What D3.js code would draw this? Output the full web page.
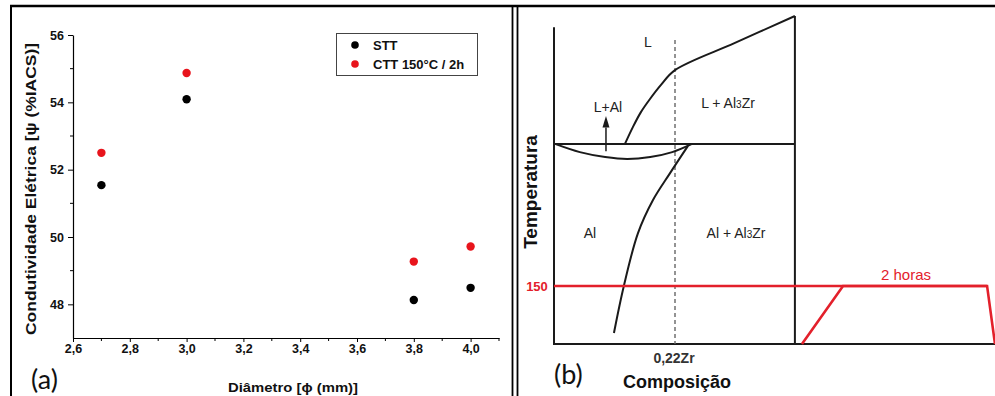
<!DOCTYPE html>
<html><head><meta charset="utf-8">
<script src="https://cdn.jsdelivr.net/npm/d3@7"></script>
<style>body{margin:0;background:#fff} svg{display:block}</style>
</head><body>
<svg id="c" width="995" height="396"></svg>
<script>
// ---------- Panel (a) data ----------
const diameters = [2.7, 3.0, 3.8, 4.0];
const sttValues = [51.54, 54.09, 48.13, 48.49];
const cttValues = [52.50, 54.87, 49.27, 49.72];
const seriesNames = ["STT", "CTT 150°C / 2h"];
const seriesColors = ["#000000", "#e8141c"];
const xTickValues = [2.6, 2.8, 3.0, 3.2, 3.4, 3.6, 3.8, 4.0];
const xMinorTicks = [2.7, 2.9, 3.1, 3.3, 3.5, 3.7, 3.9, 4.1];
const yTickValues = [48, 50, 52, 54, 56];
const yMinorTicks = [49, 51, 53, 55];

// ---------- Panel (b) schematic data (composition wt% Zr, temperature in arbitrary units) ----------
const liquidus = [[0.129,61],[0.1436,66.2],[0.158,70.7],[0.1745,74.7],[0.1945,79.0],[0.22,83.5],[0.329,91.8],[0.438,100]];
const solidusLens = [[0.0018,61],[0.047,58.5],[0.093,57.0],[0.133,56.4],[0.175,57.0],[0.215,58.5],[0.251,61]];
const solvus = [[0.2436,60.4],[0.211,52.1],[0.18,43.9],[0.1527,33.8],[0.127,17.7],[0.109,3.35]];
const alloyComposition = 0.22;
const peritecticT = 61;
const agingT = 17.7;             // drawn level of 150 °C
const agingHours = [-0.57, 0, 2, 2.11];   // ramp start, reach 150, end of hold, back down
const agingTemps = [0, 17.7, 17.7, 0];

const svg = d3.select("#c");
const F = "'Liberation Sans', Arial, sans-serif";

// ---------- Frame ----------
svg.append("line").attr("x1",10).attr("x2",995).attr("y1",6).attr("y2",6).attr("stroke","#000").attr("stroke-width",2.5);
svg.append("line").attr("x1",11).attr("x2",11).attr("y1",5).attr("y2",396).attr("stroke","#000").attr("stroke-width",2);
[512.5, 517.5].forEach(x => svg.append("line").attr("x1",x).attr("x2",x).attr("y1",5).attr("y2",396).attr("stroke","#000").attr("stroke-width",1.8));

// ---------- Panel (a) ----------
const x = d3.scaleLinear().domain([2.6, 4.1]).range([73, 499]);
const y = d3.scaleLinear().domain([47, 56]).range([338, 35]);

const gx = svg.append("g").attr("transform","translate(0,338)");
gx.call(d3.axisBottom(x).tickValues(xTickValues).tickFormat(d => d3.format(".1f")(d).replace(".", ",")).tickSize(4).tickSizeOuter(0));
gx.append("g").selectAll("line").data(xMinorTicks).join("line")
  .attr("x1", d => x(d)).attr("x2", d => x(d)).attr("y1",0).attr("y2",3).attr("stroke","#000");
const gy = svg.append("g").attr("transform","translate(73,0)");
gy.call(d3.axisLeft(y).tickValues(yTickValues).tickFormat(d3.format("d")).tickSize(5).tickSizeOuter(0));
gy.append("g").selectAll("line").data(yMinorTicks).join("line")
  .attr("y1", d => y(d)).attr("y2", d => y(d)).attr("x1",0).attr("x2",-3).attr("stroke","#000");
[gx, gy].forEach(g => {
  g.attr("font-family", F).attr("font-size", 12.5);
  g.select(".domain").attr("stroke","#000").attr("stroke-width",1.2);
  g.selectAll(".tick line").attr("stroke","#000");
  g.selectAll(".tick text").style("font-family",F).style("font-weight","bold").style("font-size","12.5px").attr("fill","#111");
});
gx.selectAll(".tick text").attr("dy","0.55em").attr("y",8);
gy.selectAll(".tick text").attr("x",-9);

// points
const series = [sttValues, cttValues];
series.forEach((vals, i) => {
  svg.append("g").selectAll("circle").data(diameters).join("circle")
    .attr("cx", d => x(d)).attr("cy", (d, j) => y(vals[j])).attr("r", 4.2)
    .attr("fill", seriesColors[i]);
});

// legend
svg.append("rect").attr("x",336.5).attr("y",33.5).attr("width",141).attr("height",42).attr("fill","#fff").attr("stroke","#444").attr("stroke-width",1);
seriesNames.forEach((name, i) => {
  const ly = 45 + i * 19;
  svg.append("circle").attr("cx",355).attr("cy",ly).attr("r",3.8).attr("fill",seriesColors[i]);
  svg.append("text").attr("x",373).attr("y",ly+4.5).text(name)
    .attr("font-family",F).attr("font-weight","bold").attr("font-size",13).attr("fill","#111");
});

// axis titles
svg.append("text").attr("transform","translate(36,189) rotate(-90)").attr("text-anchor","middle")
  .attr("font-family",F).attr("font-weight","bold").attr("font-size",15).attr("fill","#111")
  .attr("textLength",292).attr("lengthAdjust","spacingAndGlyphs")
  .text("Condutividade Elétrica [ψ (%IACS)]");
svg.append("text").attr("x",293).attr("y",392).attr("text-anchor","middle")
  .attr("font-family",F).attr("font-weight","bold").attr("font-size",13).attr("fill","#111")
  .attr("textLength",130).attr("lengthAdjust","spacingAndGlyphs")
  .text("Diâmetro [ϕ (mm)]");
svg.append("text").attr("x",31).attr("y",389).attr("font-family","Lato, 'Open Sans', sans-serif").attr("font-size",27).attr("fill","#111").text("(a)");

// ---------- Panel (b) ----------
const cx = d3.scaleLinear().domain([0, 0.44]).range([554, 796]);
const ty = d3.scaleLinear().domain([0, 100]).range([344, 16]);
const tx = d3.scaleLinear().domain([-0.653, 2.11]).range([796, 995]);
const line = d3.line().x(d => cx(d[0])).y(d => ty(d[1])).curve(d3.curveCatmullRom);
const B = "#1a1a1a";

// box
svg.append("line").attr("x1",cx(0)).attr("x2",cx(0)).attr("y1",ty(0)).attr("y2",ty(96.6)).attr("stroke",B).attr("stroke-width",2);
svg.append("line").attr("x1",cx(0.438)).attr("x2",cx(0.438)).attr("y1",ty(0)).attr("y2",ty(100)).attr("stroke",B).attr("stroke-width",2);
svg.append("line").attr("x1",cx(0)-1).attr("x2",995).attr("y1",ty(0)).attr("y2",ty(0)).attr("stroke",B).attr("stroke-width",2);
svg.append("line").attr("x1",cx(0)).attr("x2",cx(0.438)).attr("y1",ty(peritecticT)).attr("y2",ty(peritecticT)).attr("stroke",B).attr("stroke-width",2);

// dashed alloy line
svg.append("line").attr("x1",cx(alloyComposition)).attr("x2",cx(alloyComposition)).attr("y1",ty(92.7)).attr("y2",ty(0))
  .attr("stroke","#666").attr("stroke-width",1.4).attr("stroke-dasharray","4,3");

// curves
[liquidus, solidusLens, solvus].forEach(pts => svg.append("path").attr("d", line(pts)).attr("fill","none").attr("stroke",B).attr("stroke-width",2));

// arrow
const ax = cx(0.0945);
svg.append("line").attr("x1",ax).attr("x2",ax).attr("y1",ty(58.8)).attr("y2",ty(66)).attr("stroke",B).attr("stroke-width",1.5);
svg.append("path").attr("d", d3.line()([[ax-3.5, ty(66)],[ax, ty(69.5)],[ax+3.5, ty(66)]]) + "Z").attr("fill",B);

// red aging treatment
const R = "#e3202b";
svg.append("line").attr("x1",cx(0)).attr("x2",tx(2)).attr("y1",ty(agingT)).attr("y2",ty(agingT)).attr("stroke",R).attr("stroke-width",2.6);
svg.append("path").attr("d", d3.line().x((d,i) => tx(d)).y((d,i) => ty(agingTemps[i]))(agingHours))
  .attr("fill","none").attr("stroke",R).attr("stroke-width",2.6);

// labels
function lab(t, xx, yy, opts = {}) {
  const e = svg.append("text").attr("x",xx).attr("y",yy).attr("text-anchor",opts.anchor || "middle")
    .attr("font-family",F).attr("font-size",opts.size || 14).attr("font-weight",opts.weight || "normal")
    .attr("fill",opts.fill || "#222");
  if (Array.isArray(t)) t.forEach(p => e.append("tspan").attr("font-size", p[1] || null).text(p[0]));
  else e.text(t);
  return e;
}
lab("L", 648, 47);
lab("L+Al", 608, 112);
lab([["L + Al"],["3",10],["Zr"]], 728, 108);
lab("Al", 590, 238);
lab([["Al + Al"],["3",10],["Zr"]], 736, 238);
lab("2 horas", 906, 280, {fill:R, size:15});
lab("150", 537, 291, {fill:R, size:13, weight:"bold"});
lab("0,22Zr", 674, 363, {weight:"bold", fill:"#333"});
lab("Composição", 677, 388, {weight:"bold", size:18, fill:"#111"});
svg.append("text").attr("transform","translate(537,192) rotate(-90)").attr("text-anchor","middle")
  .attr("font-family",F).attr("font-weight","bold").attr("font-size",19).attr("fill","#111").text("Temperatura");
svg.append("text").attr("x",554).attr("y",384).attr("font-family","Lato, 'Open Sans', sans-serif").attr("font-size",27).attr("fill","#111").text("(b)");
</script>
</body></html>
